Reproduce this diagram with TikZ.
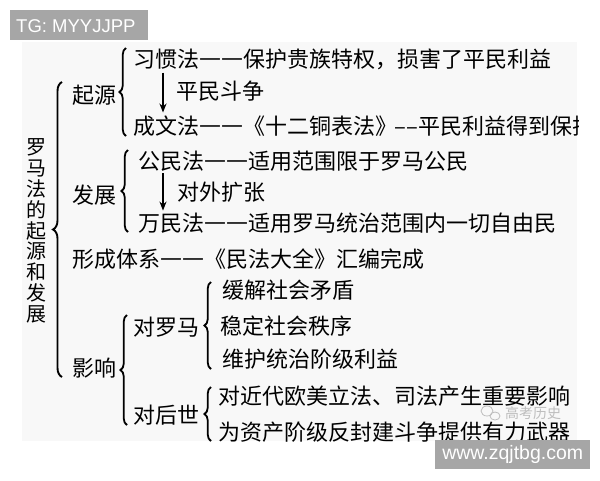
\documentclass[tikz,border=0pt]{standalone}
\usepackage{fontspec}
\setmainfont{Liberation Sans}
\newfontfamily\cjk{Noto Sans CJK SC}
\newfontfamily\djv{DejaVu Sans}
\usetikzlibrary{decorations.pathreplacing,arrows.meta}
\definecolor{wmgray}{RGB}{166,166,166}
\definecolor{panel}{RGB}{248,248,248}
\definecolor{faint}{RGB}{190,190,190}
\newcommand{\ddash}{\raisebox{1.5pt}{\djv ——}}
\begin{document}
\begin{tikzpicture}[x=1pt,y=-1pt,
  txt/.style={anchor=west,inner sep=0pt,font=\cjk\fontsize{22}{24}\selectfont},
  br/.style={decorate,decoration={brace,amplitude=6.5pt},line width=1.8pt},
  bigbr/.style={decorate,decoration={brace,amplitude=9pt},line width=1.9pt},
  arr/.style={line width=1.8pt,-{Stealth[length=9pt,width=7pt]}},
  wm/.style={fill=wmgray,inner sep=0pt}]
\useasboundingbox (0,0) rectangle (600,480);
\fill[white] (0,0) rectangle (600,480);
\fill[panel] (22,42) rectangle (577,441);
\begin{scope}
\clip (0,42) rectangle (578,441);
% title
\node[inner sep=0pt,align=center,font=\cjk\fontsize{20}{20.8}\selectfont] (title) at (36,231) {罗\\马\\法\\的\\起\\源\\和\\发\\展};
% origin
\node[txt] (qy) at (72,95) {起源};
\node[txt] (xg) at (133,59) {习惯法\ddash 保护贵族特权，损害了平民利益};
\node[txt] (pm) at (176,91) {平民斗争};
\node[txt] (cw) at (133,126) {成文法\ddash《十二铜表法》\kern-3pt–\kern1pt–\kern0pt平民利益得到保护};
% development
\node[txt] (fz) at (72,195) {发展};
\node[txt] (gm) at (138,161) {公民法\ddash 适用范围限于罗马公民};
\node[txt] (dw) at (177,192) {对外扩张};
\node[txt] (wm) at (138,223) {万民法\ddash 适用罗马统治范围内一切自由民};
% system
\node[txt] (xc) at (72,259) {形成体系\ddash《民法大全》汇编完成};
% influence
\node[txt] (yx) at (72,368) {影响};
\node[txt] (dl) at (133,327) {对罗马};
\node[txt] (hj) at (222,290) {缓解社会矛盾};
\node[txt] (wd) at (220,326) {稳定社会秩序};
\node[txt] (wh) at (222,359) {维护统治阶级利益};
\node[txt] (dh) at (133,415) {对后世};
\node[txt] (jd) at (218,396) {对近代欧美立法、司法产生重要影响};
\node[txt] (zc) at (218,432) {为资产阶级反封建斗争提供有力武器};
% arrows
\coordinate (ax) at (163,0);
\draw[arr] ([yshift=-3pt]xg.south -| ax) -- ([yshift=3pt]cw.north -| ax);
\draw[arr] ([yshift=-2pt]gm.south -| ax) -- ([yshift=2pt]wm.north -| ax);
% braces
\coordinate (b0t) at (62,82);  \coordinate (b0b) at (62,377);
\coordinate (b1t) at (126,48); \coordinate (b1b) at (126,136);
\coordinate (b2t) at (128,150); \coordinate (b2b) at (128,232);
\coordinate (b3t) at (127,315); \coordinate (b3b) at (127,425);
\coordinate (b4t) at (211,282); \coordinate (b4b) at (211,369);
\coordinate (b5t) at (211,387); \coordinate (b5b) at (211,441);
\draw[bigbr] (b0b) -- (b0t);
\draw[br] (b1b) -- (b1t);
\draw[br] (b2b) -- (b2t);
\draw[br] (b3b) -- (b3t);
\draw[br] (b4b) -- (b4t);
\draw[br] (b5b) -- (b5t);
\end{scope}
% faint watermark
\draw[faint,line width=0.8pt] (487,411) ellipse (6pt and 5pt);
\draw[faint,line width=0.8pt] (495,416) ellipse (5pt and 4pt);
\node[inner sep=0pt,anchor=west,text=faint,font=\cjk\fontsize{14}{16}\selectfont] (gk) at (505,413) {高考历史};
% watermark boxes
\node[wm,minimum width=138pt,minimum height=30pt,anchor=north west] (tgbox) at (10,10) {};
\node[anchor=west,inner sep=0pt,text=white,font=\fontsize{18.5}{20}\selectfont] (tg) at (16,26) {TG: MYYJJPP};
\node[wm,minimum width=155pt,minimum height=29pt,anchor=north west] (wwwbox) at (435,440) {};
\node[inner sep=0pt,text=white,font=\fontsize{19.5}{22}\selectfont] (www) at (wwwbox.center) {www.zqjtbg.com};
\end{tikzpicture}
\end{document}
